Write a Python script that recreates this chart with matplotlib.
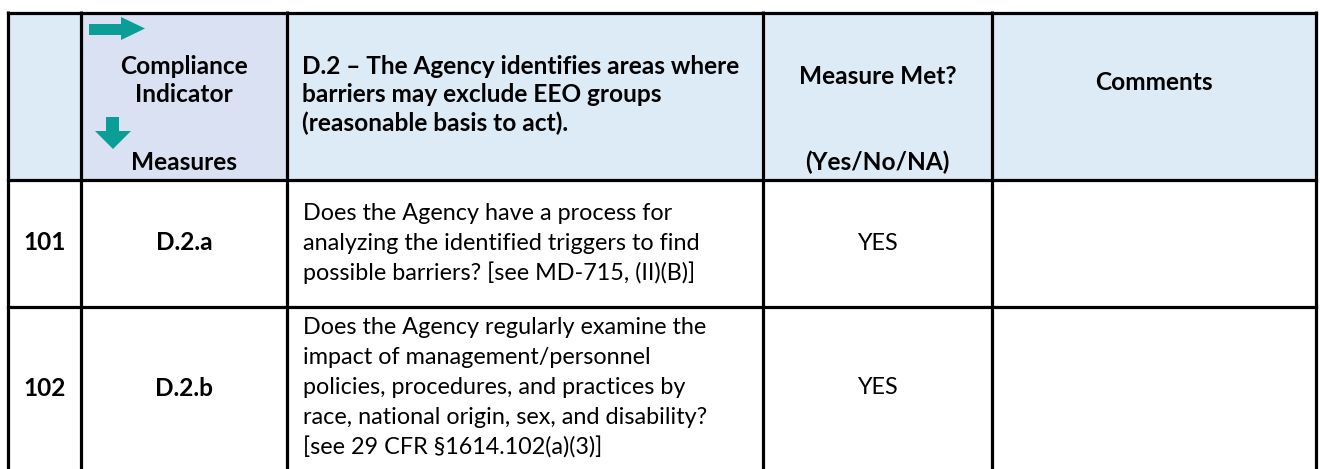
import matplotlib.pyplot as plt
from matplotlib.patches import Rectangle, Polygon

# table content
row_numbers = ["101", "102"]
measure_ids = ["D.2.a", "D.2.b"]
questions = [
    ["Does the Agency have a process for",
     "analyzing the identified triggers to find",
     "possible barriers? [see MD-715, (II)(B)]"],
    ["Does the Agency regularly examine the",
     "impact of management/personnel",
     "policies, procedures, and practices by",
     "race, national origin, sex, and disability?",
     "[see 29 CFR \u00a71614.102(a)(3)]"],
]
answers = ["YES", "YES"]
indicator_lines = ["D.2 \u2013 The Agency identifies areas where",
                   "barriers may exclude EEO groups",
                   "(reasonable basis to act)."]

# layout (pixels)
W, H = 1320, 469
col_x = [8, 81, 287, 763, 992, 1316]
top, head_bot, row1_bot = 13, 180, 307
line_h = 30
head_line_h = 28

FONT = "Lato"
REG = 16.8
BOLD = 17.6
LW = 2.3

fig = plt.figure(figsize=(W / 100, H / 100), dpi=100)
ax = fig.add_axes([0, 0, 1, 1])
ax.set_xlim(0, W)
ax.set_ylim(H, 0)
ax.axis("off")

# header fills
ax.add_patch(Rectangle((col_x[0], top), col_x[-1] - col_x[0], head_bot - top,
                       facecolor="#ddebf7", edgecolor="none"))
ax.add_patch(Rectangle((col_x[1], top), col_x[2] - col_x[1], head_bot - top,
                       facecolor="#d9e1f2", edgecolor="none"))

# grid lines
for x in col_x:
    ax.plot([x, x], [top - 2, H], color="black", lw=LW, solid_capstyle="butt")
for y in [top, head_bot, row1_bot]:
    ax.plot([col_x[0], col_x[-1]], [y, y], color="black", lw=LW,
            solid_capstyle="projecting")

# teal arrows in the compliance indicator header cell
teal = "#0a9e96"
ax.add_patch(Polygon([(89, 24), (121, 24), (121, 17), (145, 28.5), (121, 40),
                      (121, 35), (89, 35)], closed=True, facecolor=teal,
                     edgecolor="none"))
ax.add_patch(Polygon([(106, 117), (119, 117), (119, 131), (131, 131), (113, 149),
                      (95, 131), (106, 131)], closed=True, facecolor=teal,
                     edgecolor="none"))

cx = [(col_x[i] + col_x[i + 1]) / 2 for i in range(len(col_x) - 1)]

def put(x, y, s, bold=False, ha="center"):
    ax.text(x, y, s, ha=ha, va="center", fontsize=BOLD if bold else REG,
            family=FONT, fontweight="bold" if bold else "normal", color="black")

# header texts
put(cx[1], 67, "Compliance", bold=True)
put(cx[1], 67 + head_line_h, "Indicator", bold=True)
put(cx[1], 162, "Measures", bold=True)
for i, s in enumerate(indicator_lines):
    put(302, 67 + i * head_line_h, s, bold=True, ha="left")
put(cx[3], 76, "Measure Met?", bold=True)
put(cx[3], 162, "(Yes/No/NA)", bold=True)
put(cx[4], 83, "Comments", bold=True)

# body rows
row_centers = [243, 388]
for r in range(len(row_numbers)):
    yc = row_centers[r]
    put(cx[0], yc, row_numbers[r], bold=True)
    put(cx[1], yc, measure_ids[r], bold=True)
    put(cx[3], yc, answers[r])
    lines = questions[r]
    y0 = yc - (len(lines) - 1) * line_h / 2
    for i, s in enumerate(lines):
        put(303, y0 + i * line_h, s, ha="left")

fig.savefig("out.png", dpi=100)
